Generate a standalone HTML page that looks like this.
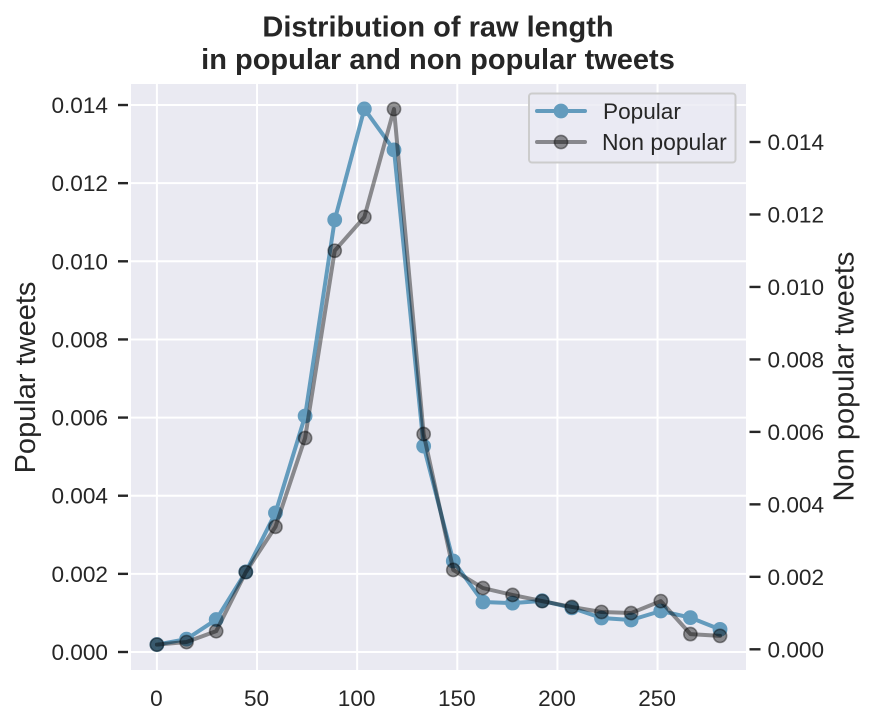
<!DOCTYPE html>
<html>
<head>
<meta charset="utf-8">
<style>
html,body{margin:0;padding:0;background:#fff;}
svg{display:block;font-family:"Liberation Sans",Arial,sans-serif;}
text{fill:#262626;}
</style>
</head>
<body>
<svg id="chart" xmlns="http://www.w3.org/2000/svg" width="875" height="726" viewBox="0 0 875 726">
  <rect x="0" y="0" width="875" height="726" fill="#ffffff"/>
  <text x="438" y="36.5" font-size="29" font-weight="700" text-anchor="middle">Distribution of raw length</text>
  <text x="438" y="69" font-size="29" font-weight="700" text-anchor="middle">in popular and non popular tweets</text>
  <rect x="131" y="84" width="615" height="586" fill="#eaeaf2"/>
  <g id="grid"></g>
  <g id="ticks"></g>
  <g id="series"></g>
  <text transform="translate(35,377.5) rotate(-90)" font-size="29" text-anchor="middle">Popular tweets</text>
  <text transform="translate(853.5,376.5) rotate(-90)" font-size="29" text-anchor="middle">Non popular tweets</text>
  <g>
    <rect x="529" y="93.5" width="206.5" height="69" rx="3" fill="#eaeaf2" fill-opacity="0.8" stroke="#cccccc" stroke-width="2"/>
    <g>
      <g opacity="0.7">
        <line x1="537" y1="111" x2="585" y2="111" stroke="#2b7ba7" stroke-width="4" stroke-linecap="round"/>
        <circle cx="561" cy="111" r="7.4" fill="#2b7ba7"/>
      </g>
      <text x="603" y="119" font-size="22.6">Popular</text>
    </g>
    <g>
      <line x1="537" y1="142" x2="585" y2="142" stroke="#000000" stroke-opacity="0.42" stroke-width="4" stroke-linecap="round"/>
      <circle cx="561" cy="142" r="6.6" fill="#000000" fill-opacity="0.42" stroke="#000000" stroke-opacity="0.42" stroke-width="1.6"/>
      <text x="602" y="150" font-size="22.9">Non popular</text>
    </g>
  </g>
</svg>
<script>
const binCenters = [0, 14.8, 29.6, 44.4, 59.2, 74, 88.8, 103.6, 118.4, 133.2, 148, 162.8, 177.6, 192.4, 207.2, 222, 236.8, 251.6, 266.4, 281.2];
const popularValues = [0.00019, 0.00033, 0.00083, 0.00205, 0.00356, 0.00604, 0.01106, 0.0139, 0.01285, 0.00527, 0.00233, 0.00128, 0.00125, 0.00131, 0.00113, 0.00087, 0.00082, 0.00105, 0.00088, 0.00058];
const nonPopularValues = [0.00013, 0.0002, 0.0005, 0.00213, 0.00338, 0.00583, 0.011, 0.01193, 0.01491, 0.00594, 0.00219, 0.00169, 0.0015, 0.00133, 0.00117, 0.00103, 0.001, 0.00133, 0.00042, 0.00037];
const xTicks = [0, 50, 100, 150, 200, 250];
const leftTicks = [0, 0.002, 0.004, 0.006, 0.008, 0.01, 0.012, 0.014];
const rightTicks = [0, 0.002, 0.004, 0.006, 0.008, 0.01, 0.012, 0.014];

const NS = 'http://www.w3.org/2000/svg';
const xPos = v => 156.9 + v * 2.0026;
const yLeft = v => 652 - v * 39070;
const yRight = v => 649.3 - v * 36235;

function make(tag, attrs, parent) {
  const el = document.createElementNS(NS, tag);
  for (const k in attrs) el.setAttribute(k, attrs[k]);
  parent.appendChild(el);
  return el;
}

const gridG = document.getElementById('grid');
const ticksG = document.getElementById('ticks');
const seriesG = document.getElementById('series');

xTicks.forEach(t => {
  const g = make('line', {x1: xPos(t), x2: xPos(t), y1: 84, y2: 670, stroke: '#ffffff', 'stroke-width': 2}, gridG);
  
  
  const l = make('text', {x: xPos(t) - 0.5, y: 706, 'font-size': 22.6, 'text-anchor': 'middle'}, ticksG);
  l.textContent = String(t);
  
  
});

leftTicks.forEach(t => {
  const y = yLeft(t);
  const g = make('line', {x1: 131, x2: 746, y1: y, y2: y, stroke: '#ffffff', 'stroke-width': 2}, gridG);
  
  
  const m = make('line', {x1: 118, x2: 128, y1: y, y2: y, stroke: '#262626', 'stroke-width': 2.4}, ticksG);
  
  
  const l = make('text', {x: 108, y: y + 8, 'font-size': 22.6, 'text-anchor': 'end'}, ticksG);
  l.textContent = t.toFixed(3);
  
  
});

rightTicks.forEach(t => {
  const y = yRight(t);
  const m = make('line', {x1: 749.5, x2: 760.5, y1: y, y2: y, stroke: '#262626', 'stroke-width': 2.4}, ticksG);
  
  
  const l = make('text', {x: 767.5, y: y + 8, 'font-size': 22.6, 'text-anchor': 'start'}, ticksG);
  l.textContent = t.toFixed(3);
  
  
});

function polyPoints(values, yFn) {
  return values.map((v, i) => xPos(binCenters[i]).toFixed(2) + ',' + yFn(v).toFixed(2)).join(' ');
}

const popularGroup = make('g', {opacity: 0.7}, seriesG);


const popularLine = make('polyline', {points: polyPoints(popularValues, yLeft), fill: 'none', stroke: '#2b7ba7', 'stroke-width': 4, 'stroke-linejoin': 'round', 'stroke-linecap': 'round'}, popularGroup);


popularValues.forEach((v, i) => {
  const c = make('circle', {cx: xPos(binCenters[i]), cy: yLeft(v), r: 7.4, fill: '#2b7ba7'}, popularGroup);
  
  
});

const nonPopularLine = make('polyline', {points: polyPoints(nonPopularValues, yRight), fill: 'none', stroke: '#000000', 'stroke-opacity': 0.42, 'stroke-width': 4, 'stroke-linejoin': 'round', 'stroke-linecap': 'round'}, seriesG);


nonPopularValues.forEach((v, i) => {
  const c = make('circle', {cx: xPos(binCenters[i]), cy: yRight(v), r: 6.6, fill: '#000000', 'fill-opacity': 0.42, stroke: '#000000', 'stroke-opacity': 0.42, 'stroke-width': 1.6}, seriesG);
  
  
});
</script>
</body>
</html>
